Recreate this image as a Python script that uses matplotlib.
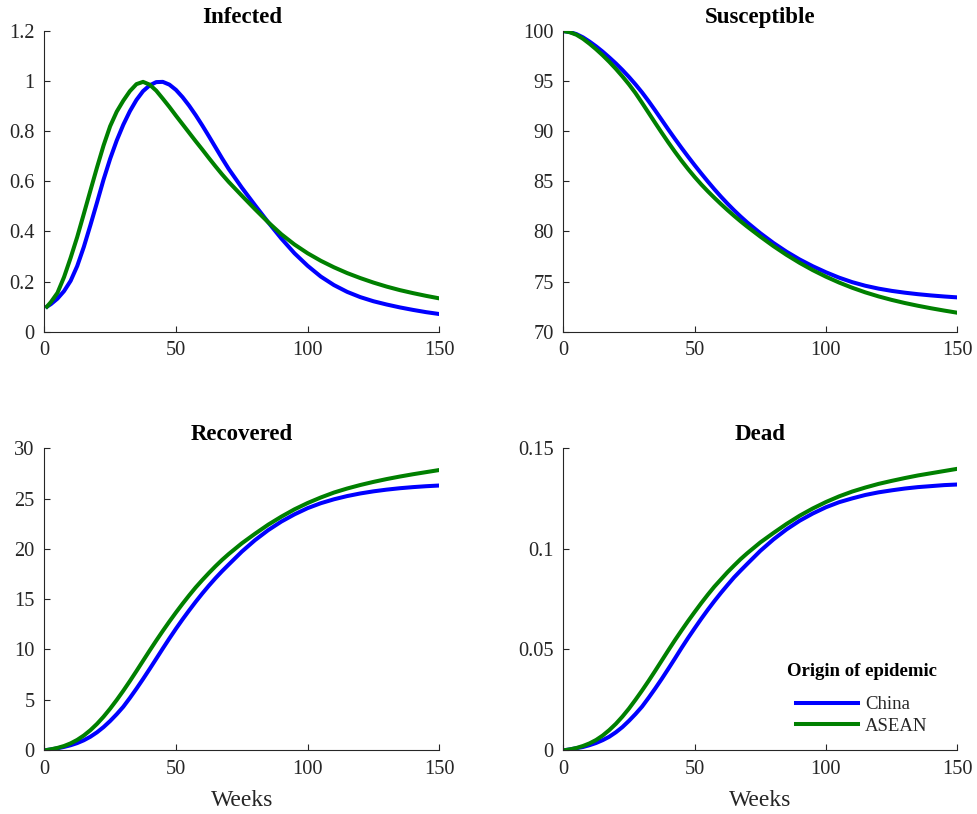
import matplotlib
matplotlib.use("Agg")
import matplotlib.pyplot as plt
from matplotlib.ticker import FuncFormatter

weeks = [1, 2.5, 5, 7.5, 10, 12.5, 15, 17.5, 20, 22.5, 25, 27.5, 30, 32.5, 35, 37.5,
         40, 42.5, 45, 47.5, 50, 52.5, 55, 57.5, 60, 62.5, 65, 67.5, 70,
         75, 80, 85, 90, 95, 100, 105, 110, 115, 120, 125, 130, 135, 140, 145, 150]

infected_china = [0.100, 0.110, 0.132, 0.162, 0.203, 0.262, 0.338, 0.425, 0.515, 0.607,
                  0.690, 0.763, 0.826, 0.880, 0.925, 0.960, 0.983, 0.996, 0.997, 0.986,
                  0.965, 0.936, 0.902, 0.864, 0.823, 0.780, 0.736, 0.692, 0.650,
                  0.575, 0.505, 0.437, 0.372, 0.313, 0.263, 0.220, 0.186, 0.159, 0.138,
                  0.1215, 0.1085, 0.097, 0.087, 0.078, 0.0705]
infected_asean = [0.100, 0.118, 0.155, 0.218, 0.295, 0.378, 0.470, 0.563, 0.655, 0.743,
                  0.820, 0.878, 0.922, 0.960, 0.988, 0.997, 0.986, 0.962, 0.930, 0.897,
                  0.862, 0.828, 0.794, 0.760, 0.727, 0.693, 0.660, 0.628, 0.598,
                  0.543, 0.489, 0.437, 0.389, 0.348, 0.313, 0.283, 0.257, 0.234, 0.214,
                  0.196, 0.180, 0.166, 0.154, 0.143, 0.133]

susceptible_china = [99.95, 99.89, 99.69, 99.365, 98.94, 98.465, 97.94, 97.365, 96.765, 96.115,
                     95.415, 94.665, 93.865, 92.99, 92.065, 91.115, 90.165, 89.24, 88.34, 87.465,
                     86.615, 85.79, 84.99, 84.215, 83.478, 82.778, 82.115, 81.49, 80.903,
                     79.828, 78.853, 77.978, 77.203, 76.528, 75.928, 75.393, 74.943, 74.583, 74.298,
                     74.073, 73.893, 73.743, 73.618, 73.513, 73.423]
susceptible_asean = [99.95, 99.875, 99.625, 99.225, 98.725, 98.175, 97.575, 96.925, 96.225, 95.475,
                     94.675, 93.8, 92.825, 91.825, 90.825, 89.838, 88.875, 87.95, 87.063, 86.225,
                     85.438, 84.7, 84.013, 83.363, 82.738, 82.138, 81.563, 81.013, 80.488,
                     79.488, 78.538, 77.663, 76.863, 76.138, 75.488, 74.903, 74.383, 73.923, 73.523,
                     73.173, 72.863, 72.588, 72.338, 72.108, 71.893]

recovered_china = [0.0, 0.059, 0.17, 0.307, 0.474, 0.688, 0.967, 1.32, 1.757, 2.278,
                   2.883, 3.56, 4.30, 5.174, 6.097, 7.06, 8.054, 9.069, 10.091, 11.09,
                   12.06, 12.99, 13.88, 14.741, 15.563, 16.343, 17.082, 17.778, 18.432,
                   19.722, 20.864, 21.858, 22.712, 23.431, 24.05, 24.54, 24.93, 25.25, 25.51,
                   25.72, 25.89, 26.03, 26.14, 26.23, 26.3]
recovered_asean = [0.0, 0.067, 0.207, 0.398, 0.661, 1.006, 1.44, 1.97, 2.594, 3.31,
                   4.11, 4.975, 5.892, 6.854, 7.852, 8.87, 9.883, 10.876, 11.841, 12.775,
                   13.675, 14.541, 15.373, 16.169, 16.90, 17.60, 18.27, 18.90, 19.48,
                   20.55, 21.5, 22.4, 23.2, 23.93, 24.56, 25.11, 25.6, 26.0, 26.35,
                   26.66, 26.94, 27.19, 27.42, 27.63, 27.84]

dead_china = [0.0, 0.0003, 0.0009, 0.0015, 0.0024, 0.0035, 0.0049, 0.0066, 0.0088, 0.0114,
              0.0145, 0.0179, 0.0216, 0.0260, 0.0306, 0.0354, 0.0404, 0.0455, 0.0507, 0.0557,
              0.0605, 0.0652, 0.0697, 0.0740, 0.0781, 0.0820, 0.0858, 0.0892, 0.0925,
              0.0990, 0.1047, 0.1097, 0.1140, 0.1176, 0.1207, 0.1232, 0.1251, 0.1268, 0.1281,
              0.1291, 0.1300, 0.1307, 0.1312, 0.1317, 0.1320]
dead_asean = [0.0, 0.0003, 0.0010, 0.0020, 0.0033, 0.0050, 0.0072, 0.0099, 0.0130, 0.0166,
              0.0206, 0.0250, 0.0296, 0.0344, 0.0394, 0.0445, 0.0496, 0.0546, 0.0594, 0.0641,
              0.0686, 0.0730, 0.0772, 0.0812, 0.0848, 0.0884, 0.0917, 0.0949, 0.0978,
              0.1032, 0.1079, 0.1124, 0.1165, 0.1201, 0.1233, 0.1261, 0.1285, 0.1305, 0.1323,
              0.1338, 0.1352, 0.1365, 0.1376, 0.1387, 0.1398]

titles = ["Infected", "Susceptible", "Recovered", "Dead"]
series_labels = ["China", "ASEAN"]
legend_title = "Origin of epidemic"
x_label = "Weeks"
x_ticks = [0, 50, 100, 150]
y_ticks = [[0, 0.2, 0.4, 0.6, 0.8, 1.0, 1.2],
           [70, 75, 80, 85, 90, 95, 100],
           [0, 5, 10, 15, 20, 25, 30],
           [0, 0.05, 0.1, 0.15]]
y_limits = [(0, 1.2), (70, 100), (0, 30), (0, 0.15)]

plt.rcParams['font.family'] = ['Liberation Serif', 'DejaVu Serif']

fig = plt.figure(figsize=(9.78, 8.14), dpi=100)
W, H = 978, 814
boxes = [(44.3, 31, 439.3, 331.7), (563.3, 31, 957.3, 331.7),
         (44.3, 448.3, 439.3, 750), (563.3, 448.3, 957.3, 750)]
data = [(infected_china, infected_asean), (susceptible_china, susceptible_asean),
        (recovered_china, recovered_asean), (dead_china, dead_asean)]

dark = '#262626'
axes = []
for i, (x0, y0, x1, y1) in enumerate(boxes):
    ax = fig.add_axes([x0 / W, 1 - y1 / H, (x1 - x0) / W, (y1 - y0) / H])
    c, a = data[i]
    ax.plot(weeks, c, color='#0000FF', lw=2.9, label=series_labels[0])
    ax.plot(weeks, a, color='#008000', lw=2.9, label=series_labels[1])
    ax.set_xlim(0, 150)
    ax.set_ylim(*y_limits[i])
    ax.set_xticks(x_ticks)
    ax.set_yticks(y_ticks[i])
    ax.xaxis.set_major_formatter(FuncFormatter(lambda v, p: '%g' % v))
    ax.yaxis.set_major_formatter(FuncFormatter(lambda v, p: '%g' % round(v, 4)))
    for s in ['top', 'right']:
        ax.spines[s].set_visible(False)
    for s in ['left', 'bottom']:
        ax.spines[s].set_color(dark)
        ax.spines[s].set_linewidth(0.8)
    ax.tick_params(direction='in', length=4, width=0.8, colors=dark,
                   labelsize=14.7, pad=7)
    ax.set_title(titles[i], fontsize=16.5, fontweight='bold', pad=6)
    if i >= 2:
        ax.set_xlabel(x_label, fontsize=17, color=dark, labelpad=8)
    axes.append(ax)

axd = axes[3]
leg = axd.legend(loc='upper left', bbox_to_anchor=(0.59, 0.179), borderaxespad=0,
                 borderpad=0, frameon=False, fontsize=13.5, handlelength=3.3,
                 handletextpad=0.4, labelspacing=0.25)
for t in leg.get_texts():
    t.set_color(dark)
axd.text(0.758, 0.2595, legend_title, transform=axd.transAxes, ha='center',
         va='center', fontsize=13.5, fontweight='bold')

fig.savefig("out.png", dpi=100)
